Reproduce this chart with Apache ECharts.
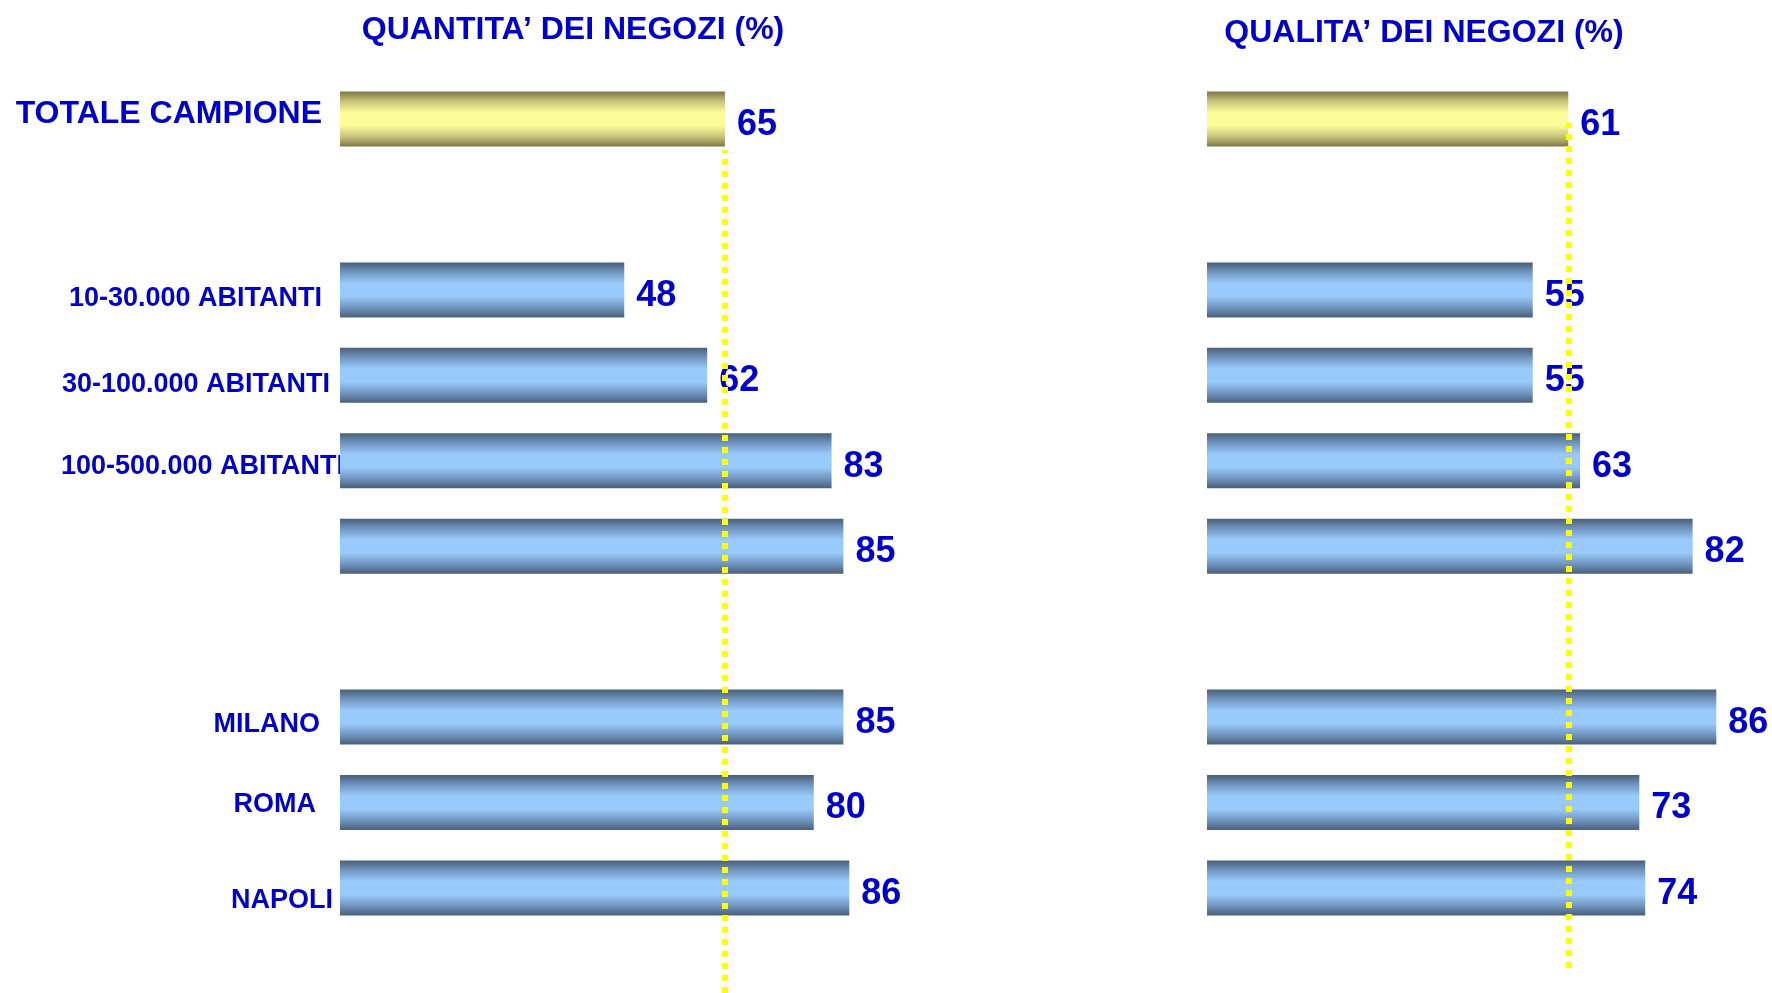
<!DOCTYPE html>
<html>
<head>
<meta charset="utf-8">
<script src="https://cdn.jsdelivr.net/npm/echarts@6/dist/echarts.min.js"></script>
<style>
html,body{margin:0;padding:0;background:#fff;}
#chart{width:1772px;height:993px;}
</style>
</head>
<body>
<div id="chart"></div>
<script>
// ---- data ----
const categories = ['TOTALE CAMPIONE', ' ', '10-30.000 ABITANTI', '30-100.000 ABITANTI', '100-500.000 ABITANTI', '  ', '   ', 'MILANO', 'ROMA', 'NAPOLI'];
const quantita = [65, null, 48, 62, 83, 85, null, 85, 80, 86];
const qualita  = [61, null, 55, 55, 63, 82, null, 86, 73, 74];
const titleLeft = 'QUANTITA\u2019 DEI NEGOZI (%)';
const titleRight = 'QUALITA\u2019 DEI NEGOZI (%)';
const xMin = 0, xMax = 90;

// ---- styles (label nudges per category: [top pad, right pad, bottom pad]) ----
const labelNudge = [[0, 22, 9], [0, 0, 0], [18, 22, 0], [19, 14, 0], [12, 0, 0], [0, 0, 0], [0, 0, 0], [14, 24, 0], [5, 28, 0], [25, 11, 0]];
const FONT = '"Liberation Sans", Arial, Helvetica, sans-serif';
const BLUE_TXT = '#0000cc';
function grad(edge, mid, light) {
  return new echarts.graphic.LinearGradient(0, 0, 0, 1, [
    {offset: 0, color: edge},
    {offset: 0.18, color: mid},
    {offset: 0.38, color: light},
    {offset: 0.62, color: light},
    {offset: 0.82, color: mid},
    {offset: 1, color: edge}
  ]);
}
const blueGrad = grad('#4a5f7a', '#7196c0', '#98cafb');
const yellowGrad = grad('#7d7845', '#c8c47a', '#fcfc99');

function barData(arr) {
  return arr.map((v, i) => v == null ? null : {
    value: v,
    itemStyle: {color: i === 0 ? yellowGrad : blueGrad}
  });
}

const gridTop = 76.3, gridH = 854.4, gridW = 533;
const leftX = 340, rightX = 1207;

const valueLabel = {
  show: true, position: 'right', distance: 12, offset: [0, 6],
  color: BLUE_TXT, fontFamily: FONT, fontWeight: 'bold', fontSize: 36
};

const rich = {};
labelNudge.forEach((n, i) => {
  rich['r' + i] = {
    color: BLUE_TXT, fontFamily: FONT, fontWeight: 'bold',
    fontSize: i === 0 ? 32 : 27,
    padding: [n[0], n[1], n[2], 0]
  };
});

const chart = echarts.init(document.getElementById('chart'), null, {renderer: 'canvas'});
chart.setOption({
  backgroundColor: '#ffffff',
  animation: false,
  title: [
    {text: titleLeft, left: 568, top: 9, textAlign: 'center',
     textStyle: {color: BLUE_TXT, fontFamily: FONT, fontWeight: 'bold', fontSize: 32}},
    {text: titleRight, left: 1419, top: 12, textAlign: 'center',
     textStyle: {color: BLUE_TXT, fontFamily: FONT, fontWeight: 'bold', fontSize: 32}}
  ],
  grid: [
    {left: leftX, top: gridTop, width: gridW, height: gridH, containLabel: false},
    {left: rightX, top: gridTop, width: gridW, height: gridH, containLabel: false},
    {left: leftX, top: 150, width: gridW, height: 843, containLabel: false},
    {left: rightX, top: 123, width: gridW, height: 845, containLabel: false}
  ],
  xAxis: [0, 1, 2, 3].map(i => ({
    type: 'value', gridIndex: i, min: xMin, max: xMax, show: false
  })),
  yAxis: [
    {type: 'category', gridIndex: 0, inverse: true, data: categories,
     axisLine: {show: false}, axisTick: {show: false}, splitLine: {show: false},
     axisLabel: {margin: -4, interval: 0, color: BLUE_TXT, fontFamily: FONT, fontWeight: 'bold', fontSize: 27,
       formatter: (v, i) => v.trim() === '' ? '' : '{r' + i + '|' + v + '}', rich: rich}},
    {type: 'category', gridIndex: 1, inverse: true, data: categories, show: false},
    {type: 'value', gridIndex: 2, min: 0, max: 1, show: false},
    {type: 'value', gridIndex: 3, min: 0, max: 1, show: false}
  ],
  series: [
    {type: 'bar', name: 'quantita', xAxisIndex: 0, yAxisIndex: 0, barWidth: 55,
     data: barData(quantita), label: valueLabel, z: 2},
    {type: 'bar', name: 'qualita', xAxisIndex: 1, yAxisIndex: 1, barWidth: 55,
     data: barData(qualita), label: valueLabel, z: 2},
    {type: 'line', xAxisIndex: 2, yAxisIndex: 2, data: [], z: 10,
     markLine: {symbol: 'none', silent: true, animation: false, label: {show: false},
       lineStyle: {color: '#ffff00', width: 6, type: [6, 6], cap: 'butt'},
       emphasis: {disabled: true},
       data: [{xAxis: quantita[0]}]}},
    {type: 'line', xAxisIndex: 3, yAxisIndex: 3, data: [], z: 10,
     markLine: {symbol: 'none', silent: true, animation: false, label: {show: false},
       lineStyle: {color: '#ffff00', width: 6, type: [6, 6], cap: 'butt'},
       emphasis: {disabled: true},
       data: [{xAxis: qualita[0]}]}}
  ]
});
</script>
</body>
</html>
